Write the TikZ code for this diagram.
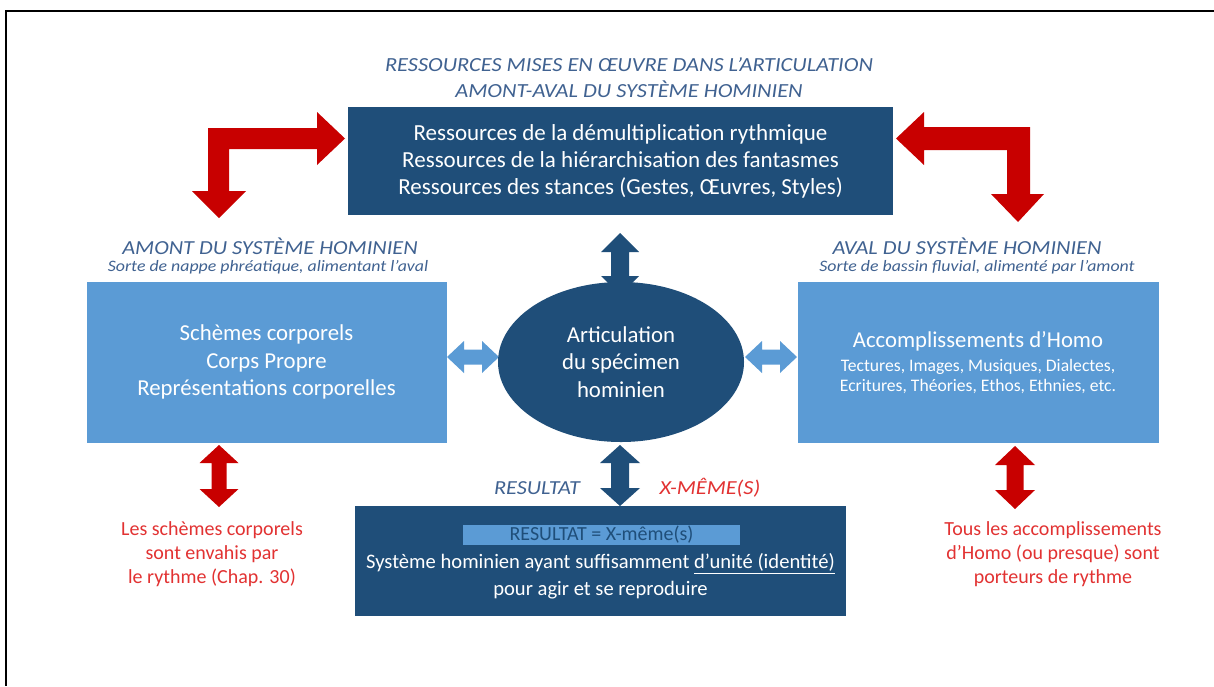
\documentclass[tikz,border=0pt]{standalone}
\usepackage{fontspec}
\setmainfont{Carlito}
\newfontfamily\widefont[FakeStretch=1.12]{Carlito}
\usetikzlibrary{shapes.geometric}
\definecolor{dblue}{RGB}{31,78,121}
\definecolor{lblue}{RGB}{91,155,213}
\definecolor{rarrow}{RGB}{200,0,0}
\definecolor{rtext}{RGB}{226,50,50}
\definecolor{lab}{RGB}{64,98,145}
% vertical double block arrow: color, x, ytop, ybot, shaft half, head half, head length
\newcommand\myvdbl[7]{\fill[#1] (#2,#3) -- (#2+#6,#3+#7) -- (#2+#5,#3+#7) -- (#2+#5,#4-#7) -- (#2+#6,#4-#7) -- (#2,#4) -- (#2-#6,#4-#7) -- (#2-#5,#4-#7) -- (#2-#5,#3+#7) -- (#2-#6,#3+#7) -- cycle;}
% horizontal double block arrow: color, y, xleft, xright, shaft half, head half, head length
\newcommand\myhdbl[7]{\fill[#1] (#3,#2) -- (#3+#7,#2-#6) -- (#3+#7,#2-#5) -- (#4-#7,#2-#5) -- (#4-#7,#2-#6) -- (#4,#2) -- (#4-#7,#2+#6) -- (#4-#7,#2+#5) -- (#3+#7,#2+#5) -- (#3+#7,#2+#6) -- cycle;}
\begin{document}
\begin{tikzpicture}[x=1pt,y=-1pt,
  darkbox/.style={fill=dblue, draw=none, inner sep=0pt, text=white, align=center, font=\fontsize{23}{27}\selectfont},
  lightbox/.style={fill=lblue, draw=none, inner sep=0pt, text=white, align=center, font=\fontsize{22.8}{27.5}\selectfont},
  heading/.style={text=lab, inner sep=0pt, font=\widefont\fontsize{19.9}{22}\selectfont\itshape},
  subheading/.style={text=lab, inner sep=0pt, font=\widefont\fontsize{15.9}{18}\selectfont\itshape},
  redtext/.style={text=rtext, inner sep=0pt, align=center, font=\fontsize{20}{24}\selectfont},
]
\useasboundingbox (0,0) rectangle (1214,686);
\fill[white] (0,0) rectangle (1214,686);
\draw[line width=2pt] (1214,11) -- (6,11) -- (6,686);

% title
\node[heading, align=center, font=\widefont\fontsize{20}{26}\selectfont\itshape] (title) at (629,78)
  {RESSOURCES MISES EN ŒUVRE DANS L’ARTICULATION\\AMONT-AVAL DU SYSTÈME HOMINIEN};

% top box
\node[darkbox, minimum width=545pt, minimum height=108pt] (top) at (620.5,161)
  {Ressources de la démultiplication rythmique\\Ressources de la hiérarchisation des fantasmes\\Ressources des stances (Gestes, Œuvres, Styles)};

% red L arrows
\fill[rarrow] (208,128) -- (317,128) -- (317,112) -- (345,138.5) -- (317,165) -- (317,149) -- (229,149) -- (229,191) -- (246,191) -- (219,218) -- (192,191) -- (208,191) -- cycle;
\fill[rarrow] (1030,127) -- (924,127) -- (924,112) -- (896,138.5) -- (924,165) -- (924,150) -- (1007,150) -- (1007,194) -- (991,194) -- (1018,222) -- (1044,194) -- (1030,194) -- cycle;

% section headings
\node[heading] (amont) at (270,246) {AMONT DU SYSTÈME HOMINIEN};
\node[subheading] (amontsub) at (268,267) {Sorte de nappe phréatique, alimentant l’aval};
\node[heading] (aval) at (967,246) {AVAL DU SYSTÈME HOMINIEN};
\node[subheading] (avalsub) at (977,267) {Sorte de bassin fluvial, alimenté par l’amont};

% side boxes
\node[lightbox, minimum width=360pt, minimum height=161pt] (left) at (266.5,362)
  {Schèmes corporels\\Corps Propre\\Représentations corporelles};
\node[lightbox, minimum width=361pt, minimum height=161pt] (right) at (978.5,362) {};
\node[text=white, inner sep=0pt, align=center, font=\fontsize{22.7}{26}\selectfont] (righttitle) at (978,341) {Accomplissements d’Homo};
\node[text=white, inner sep=0pt, align=center, font=\fontsize{17.6}{19.5}\selectfont] (rightsub) at (978,376.5)
  {Tectures, Images, Musiques, Dialectes,\\Ecritures, Théories, Ethos, Ethnies, etc.};

% connecting double arrows
\myvdbl{dblue}{620}{233}{295}{9}{19}{19}
\myvdbl{dblue}{620}{445}{506}{9}{20}{18}
\myhdbl{lblue}{357}{447}{499}{7.5}{16}{17}
\myhdbl{lblue}{357}{745}{797}{7.5}{16}{17}

% ellipse
\node[ellipse, fill=dblue, inner sep=0pt, minimum width=246pt, minimum height=160pt, text=white, align=center, font=\fontsize{22.8}{27.5}\selectfont] (art) at (621,362)
  {Articulation\\du spécimen\\hominien};

% result labels
\node[heading] (res) at (537,488) {RESULTAT};
\node[heading, text=rtext] (xm) at (710,488) {X-MÊME(S)};

% bottom box
\node[darkbox, minimum width=491pt, minimum height=110pt] (bot) at (600.5,561) {};
\node[fill=lblue, inner sep=0pt, minimum width=277pt, minimum height=20pt, text=dblue, font=\fontsize{20}{22}\selectfont] (eq) at (601.5,535) {RESULTAT = X-même(s)};
\node[text=white, inner sep=0pt, align=center, font=\fontsize{20.6}{26.5}\selectfont] (bottxt) at (600.5,576)
  {Système hominien ayant suffisamment \underline{d’unité (identité)}\\pour agir et se reproduire};

% red double arrows
\myvdbl{rarrow}{219}{445}{507}{7.5}{19.5}{18}
\myvdbl{rarrow}{1015}{446}{509}{8.5}{20}{19}

% red notes
\node[redtext] (lnote) at (212,554) {Les schèmes corporels\\sont envahis par\\le rythme (Chap. 30)};
\node[redtext] (rnote) at (1053,554) {Tous les accomplissements\\d’Homo (ou presque) sont\\porteurs de rythme};
\end{tikzpicture}
\end{document}
